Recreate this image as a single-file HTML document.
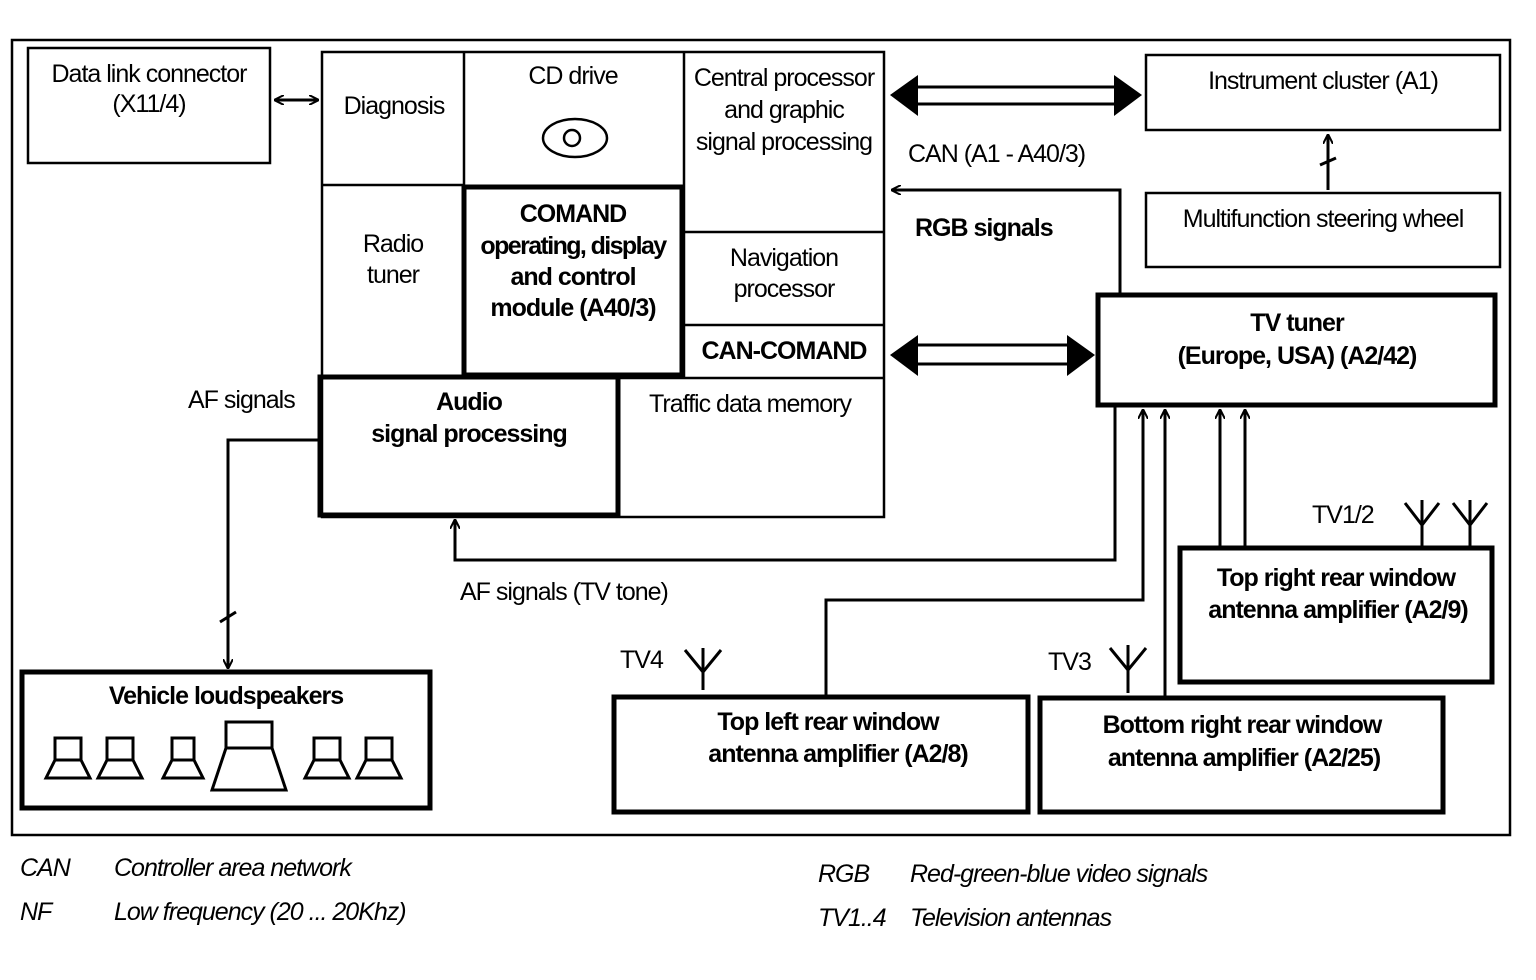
<!DOCTYPE html>
<html><head><meta charset="utf-8"><style>
html,body{margin:0;padding:0;background:#fff}
svg{display:block}
text{font-family:"Liberation Sans",sans-serif;font-size:25px;letter-spacing:-1px;fill:#000}
.b{font-weight:bold}
.i{font-style:italic;font-size:25px}
</style></head><body>
<svg width="1536" height="980" viewBox="0 0 1536 980" xmlns="http://www.w3.org/2000/svg">
<defs>
<marker id="a" markerWidth="10" markerHeight="10" refX="9" refY="5" orient="auto-start-reverse" markerUnits="userSpaceOnUse"><path d="M0,0 L10,5 L0,10" fill="none" stroke="#000" stroke-width="2"/></marker>
</defs>
<g fill="none" stroke="#000" stroke-width="2.5">
<rect x="12" y="40" width="1498" height="795"/>
<rect x="28" y="48" width="242" height="115"/>
<rect x="322" y="52" width="562" height="465"/>
<line x1="464" y1="52" x2="464" y2="375"/>
<line x1="684" y1="52" x2="684" y2="378"/>
<line x1="322" y1="185" x2="464" y2="185"/>
<line x1="684" y1="232" x2="884" y2="232"/>
<line x1="684" y1="325" x2="884" y2="325"/>
<line x1="618" y1="378" x2="884" y2="378"/>
<ellipse cx="575" cy="138" rx="32" ry="19"/>
<circle cx="572" cy="138" r="8"/>
<rect x="1146" y="55" width="354" height="75"/>
<rect x="1146" y="193" width="354" height="74"/>
</g>
<g fill="none" stroke="#000" stroke-width="5">
<rect x="464" y="187" width="218" height="188"/>
<rect x="320" y="377" width="298" height="138"/>
<rect x="1098" y="295" width="397" height="110"/>
<rect x="22" y="672" width="408" height="136"/>
<rect x="614" y="697" width="414" height="115"/>
<rect x="1040" y="698" width="403" height="114"/>
<rect x="1180" y="548" width="312" height="134"/>
</g>
<g fill="none" stroke="#000" stroke-width="3">
<line x1="275" y1="100" x2="318" y2="100" marker-end="url(#a)" marker-start="url(#a)"/>
<line x1="1328" y1="190" x2="1328" y2="135" marker-end="url(#a)"/>
<line x1="1320" y1="165" x2="1336" y2="158"/>
<line x1="915" y1="87" x2="1118" y2="87"/>
<line x1="915" y1="104" x2="1118" y2="104"/>
<line x1="915" y1="345" x2="1072" y2="345"/>
<line x1="915" y1="364" x2="1072" y2="364"/>
<polyline points="1120,295 1120,190 892,190" marker-end="url(#a)"/>
<polyline points="1115,405 1115,560 455,560 455,520" marker-end="url(#a)"/>
<polyline points="320,440 228,440 228,668" marker-end="url(#a)"/>
<line x1="220" y1="622" x2="236" y2="612"/>
<polyline points="826,697 826,600 1143,600 1143,410" marker-end="url(#a)"/>
<polyline points="1165,698 1165,410" marker-end="url(#a)"/>
<line x1="1220" y1="548" x2="1220" y2="410" marker-end="url(#a)"/>
<line x1="1245" y1="548" x2="1245" y2="410" marker-end="url(#a)"/>
<path d="M703,690 V648 M685,650 L703,672 L721,650"/>
<path d="M1128,693 V645 M1110,648 L1128,670 L1146,648"/>
<path d="M1422,548 V500 M1405,503 L1422,525 L1439,503"/>
<path d="M1470,548 V500 M1453,503 L1470,525 L1487,503"/>
</g>
<g fill="#000">
<polygon points="890,95 918,75 918,116"/>
<polygon points="1142,95 1114,75 1114,116"/>
<polygon points="890,355 918,335 918,376"/>
<polygon points="1095,355 1067,335 1067,376"/>
</g>
<g fill="none" stroke="#000" stroke-width="3">
<path d="M55,738 h26 v22 h-26 z M46,778 l9,-18 h26 l9,18 z"/>
<path d="M107,738 h26 v22 h-26 z M98,778 l9,-18 h26 l9,18 z"/>
<path d="M172,738 h22 v22 h-22 z M163,778 l9,-18 h22 l9,18 z"/>
<path d="M226,722 h46 v26 h-46 z M212,790 l14,-42 h46 l14,42 z"/>
<path d="M314,738 h26 v22 h-26 z M305,778 l9,-18 h26 l9,18 z"/>
<path d="M366,738 h26 v22 h-26 z M357,778 l9,-18 h26 l9,18 z"/>
</g>
<g text-anchor="middle">
<text x="149" y="82">Data link connector</text>
<text x="149" y="112">(X11/4)</text>
<text x="394" y="114">Diagnosis</text>
<text x="573" y="84">CD drive</text>
<text x="784" y="86">Central processor</text>
<text x="784" y="118">and graphic</text>
<text x="784" y="150">signal processing</text>
<text x="393" y="252">Radio</text>
<text x="393" y="283">tuner</text>
<text class="b" x="573" y="222">COMAND</text>
<text class="b" x="573" y="254" style="letter-spacing:-1.6px">operating, display</text>
<text class="b" x="573" y="285">and control</text>
<text class="b" x="573" y="316">module (A40/3)</text>
<text x="784" y="266">Navigation</text>
<text x="784" y="297">processor</text>
<text class="b" x="784" y="359">CAN-COMAND</text>
<text class="b" x="469" y="410">Audio</text>
<text class="b" x="469" y="442">signal processing</text>
<text x="750" y="412">Traffic data memory</text>
<text x="1323" y="89">Instrument cluster (A1)</text>
<text x="1323" y="227">Multifunction steering wheel</text>
<text class="b" x="1297" y="331">TV tuner</text>
<text class="b" x="1297" y="364">(Europe, USA)  (A2/42)</text>
<text class="b" x="226" y="704">Vehicle loudspeakers</text>
<text class="b" x="828" y="730">Top left rear window</text>
<text class="b" x="838" y="762">antenna amplifier  (A2/8)</text>
<text class="b" x="1242" y="733">Bottom right rear window</text>
<text class="b" x="1244" y="766">antenna amplifier (A2/25)</text>
<text class="b" x="1336" y="586">Top right rear window</text>
<text class="b" x="1338" y="618">antenna amplifier (A2/9)</text>
</g>
<text x="908" y="162">CAN (A1 - A40/3)</text>
<text class="b" x="915" y="236">RGB signals</text>
<text x="188" y="408">AF signals</text>
<text x="460" y="600">AF signals (TV tone)</text>
<text x="620" y="668">TV4</text>
<text x="1048" y="670">TV3</text>
<text x="1312" y="523">TV1/2</text>
<text class="i" x="20" y="876">CAN</text>
<text class="i" x="114" y="876">Controller area network</text>
<text class="i" x="20" y="920">NF</text>
<text class="i" x="114" y="920">Low frequency (20 ... 20Khz)</text>
<text class="i" x="818" y="882">RGB</text>
<text class="i" x="910" y="882">Red-green-blue video signals</text>
<text class="i" x="818" y="926">TV1..4</text>
<text class="i" x="910" y="926">Television antennas</text>
</svg>
</body></html>
